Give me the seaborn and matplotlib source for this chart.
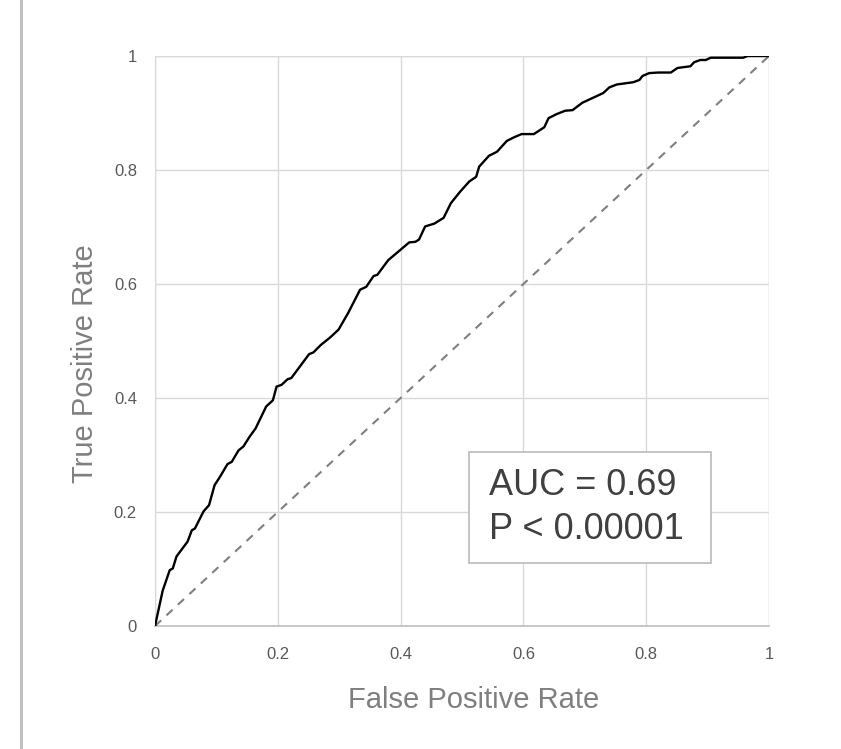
import matplotlib
matplotlib.use("Agg")
import matplotlib.pyplot as plt
from matplotlib.lines import Line2D
from matplotlib.patches import Rectangle
import seaborn as sns
import pandas as pd

fpr = [0, 0.0125, 0.024, 0.029, 0.035, 0.053, 0.060, 0.065, 0.079, 0.088,
       0.097, 0.106, 0.118, 0.125, 0.136, 0.144, 0.154, 0.164, 0.181, 0.192,
       0.198, 0.206, 0.216, 0.222, 0.251, 0.258, 0.270, 0.285, 0.299, 0.315,
       0.334, 0.344, 0.356, 0.362, 0.380, 0.402, 0.414, 0.424, 0.430, 0.440,
       0.455, 0.470, 0.482, 0.497, 0.512, 0.523, 0.528, 0.544, 0.557, 0.573,
       0.584, 0.597, 0.617, 0.634, 0.641, 0.654, 0.668, 0.680, 0.696, 0.730,
       0.740, 0.752, 0.779, 0.789, 0.794, 0.805, 0.820, 0.840, 0.851, 0.872,
       0.878, 0.888, 0.897, 0.905, 0.958, 0.965, 1.0]
tpr = [0, 0.062, 0.098, 0.101, 0.122, 0.148, 0.168, 0.171, 0.201, 0.212,
       0.247, 0.262, 0.284, 0.288, 0.308, 0.315, 0.332, 0.347, 0.385, 0.396,
       0.420, 0.423, 0.433, 0.435, 0.477, 0.480, 0.493, 0.506, 0.520, 0.550,
       0.590, 0.595, 0.614, 0.616, 0.642, 0.662, 0.673, 0.674, 0.678, 0.701,
       0.706, 0.716, 0.742, 0.762, 0.780, 0.788, 0.806, 0.825, 0.832, 0.851,
       0.857, 0.863, 0.863, 0.875, 0.891, 0.898, 0.904, 0.905, 0.918, 0.935,
       0.945, 0.950, 0.954, 0.958, 0.965, 0.970, 0.971, 0.971, 0.979, 0.982,
       0.989, 0.993, 0.993, 0.997, 0.997, 1.0, 1.0]
chance = [0, 1]
ticks = [0, 0.2, 0.4, 0.6, 0.8, 1]
tick_labels = ["0", "0.2", "0.4", "0.6", "0.8", "1"]
auc_text = ["AUC = 0.69", "P < 0.00001"]

sns.set_theme(style="white")
plt.rcParams['font.family'] = ['Liberation Sans', 'DejaVu Sans']

fig = plt.figure(figsize=(8.41, 7.49), dpi=100)
ax = fig.add_axes([155/841, 1 - 626/749, 614/841, 570/749])

df = pd.DataFrame({"fpr": fpr, "tpr": tpr})
sns.lineplot(data=df, x="fpr", y="tpr", sort=False, estimator=None,
             color="black", linewidth=1.7, ax=ax, zorder=4)
sns.lineplot(x=chance, y=chance, color="#7f7f7f", linewidth=1.5,
             linestyle=(0, (4, 3.5)), ax=ax, zorder=3)

ax.set_xlim(0, 1)
ax.set_ylim(0, 1)
ax.set_xticks(ticks)
ax.set_yticks(ticks)
tick_font = dict(size=12, color="#595959")
ax.set_xticklabels(tick_labels, **tick_font)
ax.set_yticklabels(tick_labels, **tick_font)
ax.tick_params(axis="both", length=0)
ax.tick_params(axis="x", pad=15)
ax.tick_params(axis="y", pad=13)
ax.grid(True, color="#d9d9d9", linewidth=1)
ax.set_axisbelow(True)
for s in ["top", "right", "left"]:
    ax.spines[s].set_visible(False)
ax.spines["bottom"].set_color("#bfbfbf")
ax.spines["bottom"].set_linewidth(1.2)
ax.spines["bottom"].set_zorder(2)
ax.axvline(1, color="#d9d9d9", linewidth=1, zorder=1)
ax.axhline(1, color="#d9d9d9", linewidth=1, zorder=1)
ax.axvline(0, color="#d9d9d9", linewidth=1, zorder=1)

ax.set_xlabel("False Positive Rate", fontsize=21, color="#7f7f7f")
ax.set_ylabel("True Positive Rate", fontsize=21, color="#7f7f7f")
ax.xaxis.set_label_coords(0.519, -0.106)
ax.yaxis.set_label_coords(-0.091, 0.461)

ax.add_patch(Rectangle((0.512, 0.111), 0.3935, 0.194, transform=ax.transData,
                       facecolor="white", edgecolor="#bfbfbf", linewidth=1.3, zorder=5))
ax.text(0.5445, 0.247, auc_text[0], fontsize=26, color="#404040", va="center", ha="left", zorder=6)
ax.text(0.5445, 0.170, auc_text[1], fontsize=26, color="#404040", va="center", ha="left", zorder=6)

fig.add_artist(Line2D([21/841, 21/841], [0, 1], transform=fig.transFigure,
                      color="#c0c0c0", linewidth=2.2))

fig.savefig("out.png", dpi=100)
